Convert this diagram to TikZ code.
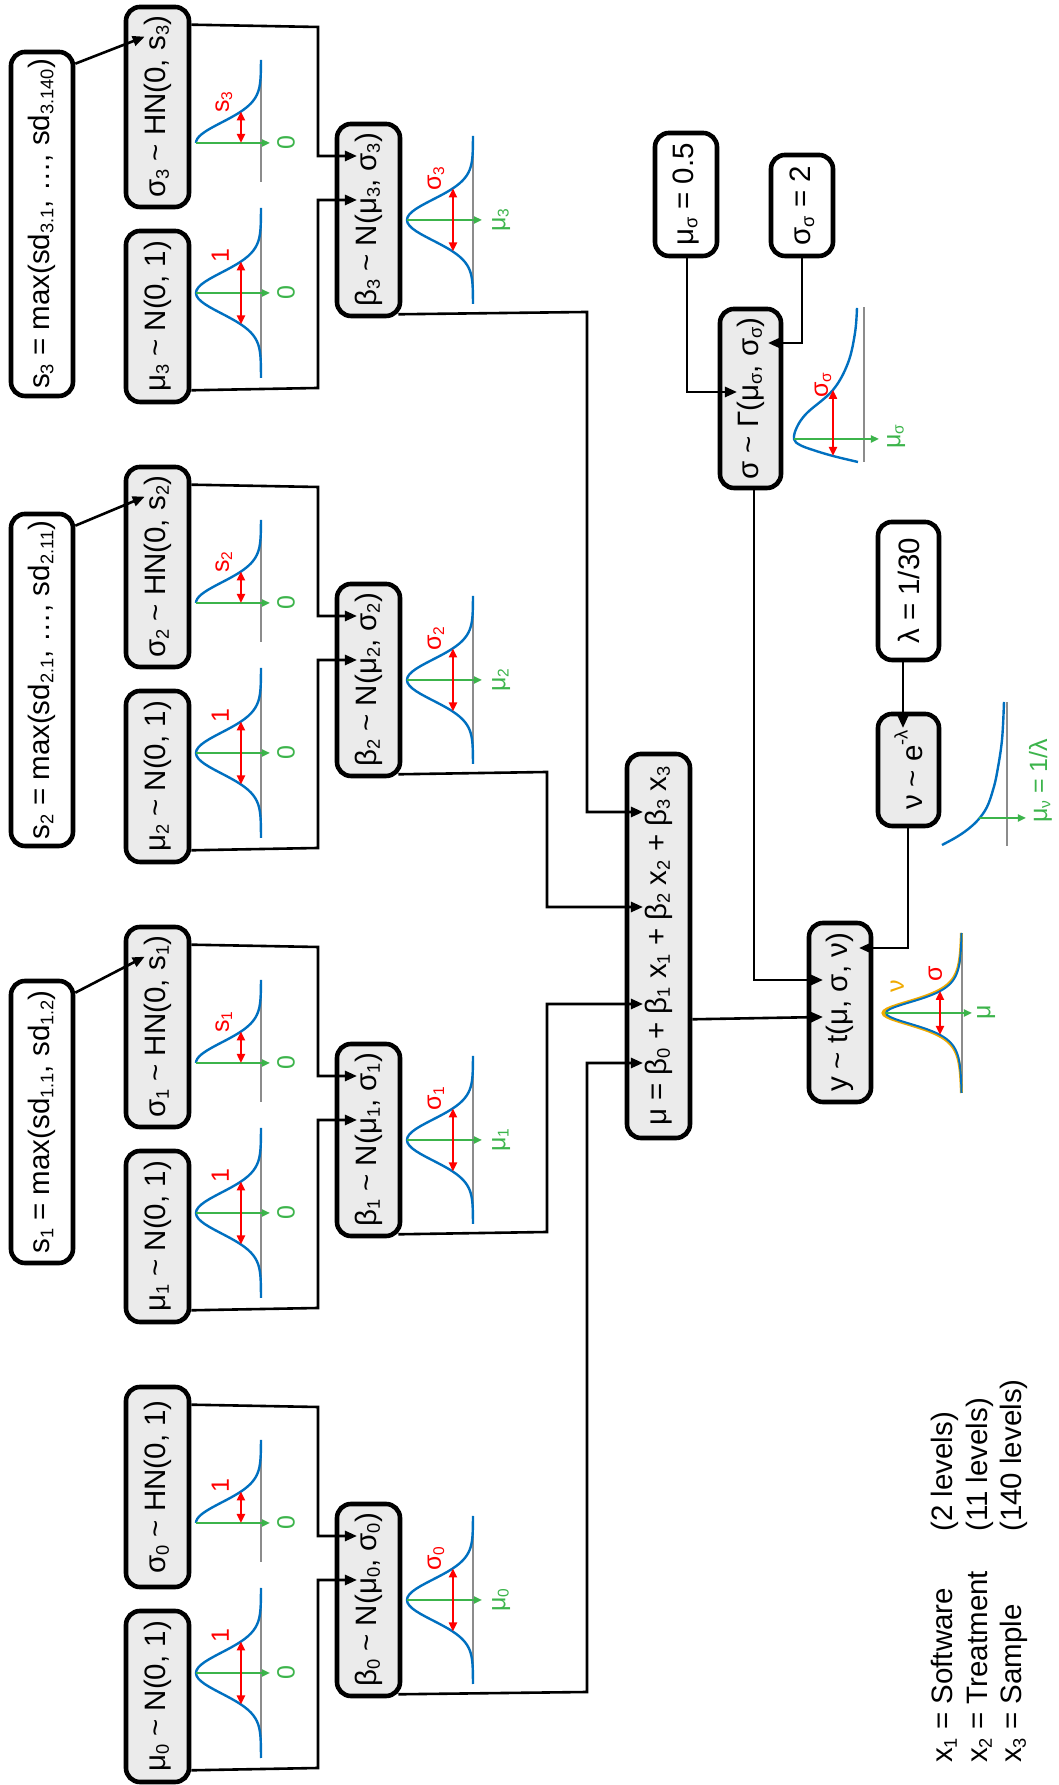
\documentclass[tikz,border=0pt]{standalone}
\usepackage{fontspec}
\setmainfont{Liberation Sans}
\usepackage{graphicx}
\usetikzlibrary{arrows.meta,calc}
\definecolor{cblue}{RGB}{0,112,192}
\definecolor{cred}{RGB}{255,0,0}
\definecolor{cgreen}{RGB}{60,180,75}
\definecolor{corange}{RGB}{240,170,0}
\definecolor{cgray}{RGB}{140,140,140}
\definecolor{boxfill}{RGB}{235,235,235}
\newcommand\sbs[1]{\raisebox{-0.13em}{\scalebox{0.62}{#1}}}
\newcommand\sps[1]{\raisebox{0.5em}{\scalebox{0.62}{#1}}}
\newcommand\tld{\textasciitilde}
\tikzset{
  varbox/.style={draw, line width=4.6pt, rounded corners=14pt, fill=boxfill, inner sep=0pt, font=\fontsize{29.5}{35}\selectfont},
  constbox/.style={varbox, fill=white},
  conn/.style={line width=2.6pt, -{Triangle[length=12pt,width=10pt]}},
  curve/.style={cblue, line width=2.4pt},
  axisline/.style={cgray, line width=2pt},
  meanarrow/.style={cgreen, line width=2pt, -{Triangle[length=8pt,width=7pt]}},
  sdarrow/.style={cred, line width=2.4pt, {Triangle[length=9pt,width=8pt]}-{Triangle[length=9pt,width=8pt]}},
  redlab/.style={cred, font=\fontsize{25}{29}\selectfont, inner sep=0pt},
  greenlab/.style={cgreen, font=\fontsize{25}{29}\selectfont, inner sep=0pt},
  orangelab/.style={corange, font=\fontsize{25}{29}\selectfont, inner sep=0pt},
  legendtext/.style={font=\fontsize{29.5}{35}\selectfont, inner sep=0pt},
}
\begin{document}
\begin{tikzpicture}[x=1pt,y=1pt,rotate=90,transform shape]
\fill[white] (0,0) rectangle (1785,1058);
\useasboundingbox (0,0) rectangle (1785,1058);

% ---------- curves of the four groups ----------
\foreach \k in {0,1,2,3}{
  \pgfmathsetmacro\dx{460*\k}
  % mu_k ~ N(0,1)
  \draw[axisline] (27+\dx,797) -- (197+\dx,797);
  \draw[curve] plot[domain=-85:85,samples=61] ({112+\dx+\x},{797+65*exp(-(\x*\x)/840.5)});
  \draw[meanarrow] (112+\dx,862) -- (112+\dx,788);
  \draw[sdarrow] (80.5+\dx,817) -- (143.5+\dx,817);
  \node[redlab,anchor=base west] at (142+\dx,829) {1};
  \node[greenlab,anchor=north] at (112+\dx,781) {0};
  % sigma_k ~ HN
  \draw[axisline] (223+\dx,797) -- (345+\dx,797);
  \draw[curve] plot[domain=0:83,samples=41] ({262+\dx+\x},{797+65*exp(-(\x*\x)/840.5)});
  \draw[meanarrow] (262+\dx,862) -- (262+\dx,788);
  \draw[sdarrow] (262+\dx,817) -- (293.5+\dx,817);
  \node[redlab,anchor=base west] at (292+\dx,829) {\ifnum\k=0 1\else s\sbs{\k}\fi};
  \node[greenlab,anchor=north] at (262+\dx,781) {0};
  % beta_k ~ N
  \draw[axisline] (101+\dx,585) -- (269+\dx,585);
  \draw[curve] plot[domain=-84:84,samples=61] ({185+\dx+\x},{585+66*exp(-(\x*\x)/840.5)});
  \draw[meanarrow] (185+\dx,651) -- (185+\dx,576);
  \draw[sdarrow] (153.5+\dx,605) -- (216.5+\dx,605);
  \node[redlab,anchor=base west] at (214+\dx,617) {σ\sbs{\k}};
  \node[greenlab,anchor=north] at (185+\dx,566) {μ\sbs{\k}};
}

% ---------- curve of sigma ~ Gamma ----------
\draw[axisline] (1323,194) -- (1478,194);
\draw[curve] plot[smooth,tension=0.6] coordinates {(1323,200) (1329,225) (1335,245) (1340,258) (1346,264) (1358,261) (1372,251) (1395,225) (1422,210) (1452,203) (1477,201)};
\draw[meanarrow] (1346,264) -- (1346,179);
\draw[sdarrow] (1329,225) -- (1395,225);
\node[redlab,anchor=base west] at (1387,230) {σ\sbs{σ}};
\node[greenlab,anchor=north] at (1348,171) {μ\sbs{σ}};

% ---------- curve of nu ~ exponential ----------
\draw[axisline] (939,51) -- (1083,51);
\draw[curve] plot[smooth,tension=0.6] coordinates {(940,116) (947,103) (955,91) (965,80) (978,71) (995,65) (1012,61) (1045,56) (1083,54)};
\draw[meanarrow] (967,79) -- (967,32);
\node[greenlab,anchor=base west] at (962,11) {μ\sbs{ν} = 1/λ};

% ---------- curve of y ~ t ----------
\draw[axisline] (693,96) -- (852,96);
\draw[corange, line width=3pt] plot[domain=-80:80,samples=81] ({772+\x},{96+79/((1+\x*\x/600)*(1+\x*\x/600))});
\draw[curve, line width=2pt] plot[domain=-80:80,samples=81] ({772+\x},{96+76/((1+\x*\x/555)*(1+\x*\x/555))});
\draw[meanarrow] (772,173) -- (772,86);
\draw[sdarrow] (750,118) -- (794,118);
\node[redlab,anchor=base west] at (803,116) {σ};
\node[orangelab,anchor=base west] at (792,154) {ν};
\node[greenlab,anchor=north] at (773,81) {μ};

% ---------- boxes ----------
\foreach \k in {0,1,2,3}{
  \pgfmathsetmacro\dx{460*\k}
  \node[varbox, minimum width=171pt, minimum height=63pt] (mu\k) at (88.5+\dx,900.5) {μ\sbs{\k} \tld{} N(0, 1)};
  \node[varbox, minimum width=200pt, minimum height=63pt] (sig\k) at (298+\dx,900.5)
    {\ifnum\k=0 σ\sbs{0} \tld{} HN(0, 1)\else σ\sbs{\k} \tld{} HN(0, s\sbs{\k})\fi};
  \node[varbox, minimum width=192pt, minimum height=63pt] (beta\k) at (185+\dx,689.5) {β\sbs{\k} \tld{} N(μ\sbs{\k}, σ\sbs{\k})};
}
\node[constbox, minimum width=282pt, minimum height=62pt] (s1) at (663,1016) {s\sbs{1} = max(sd\sbs{1.1}, sd\sbs{1.2})};
\node[constbox, minimum width=332pt, minimum height=62pt] (s2) at (1105,1016) {s\sbs{2} = max(sd\sbs{2.1}, …, sd\sbs{2.11})};
\node[constbox, minimum width=344pt, minimum height=62pt] (s3) at (1561,1016) {s\sbs{3} = max(sd\sbs{3.1}, …, sd\sbs{3.140})};

\node[varbox, minimum width=384pt, minimum height=63pt] (mu) at (839,399.5) {μ = β\sbs{0} + β\sbs{1} x\sbs{1} + β\sbs{2} x\sbs{2} + β\sbs{3} x\sbs{3}};
\node[varbox, minimum width=179pt, minimum height=62pt] (y) at (772.5,218) {y \tld{} t(μ, σ, ν)};
\node[varbox, minimum width=179pt, minimum height=61pt] (sigma) at (1386.5,307.5) {σ \tld{} Γ(μ\sbs{σ}, σ\sbs{σ})};
\node[constbox, minimum width=123pt, minimum height=62pt] (musig) at (1590.5,372) {μ\sbs{σ} = 0.5};
\node[constbox, minimum width=101pt, minimum height=62pt] (sigsig) at (1579.5,256) {σ\sbs{σ} = 2};
\node[constbox, minimum width=138pt, minimum height=61pt] (lambda) at (1194,149.5) {λ = 1/30};
\node[varbox, minimum width=112pt, minimum height=61pt] (nu) at (1015,149.5) {ν \tld{} e\sps{-λ}};

% ---------- connectors ----------
\foreach \k/\lev/\xin in {0/471/722,1/511/781,2/511/878,3/471/973}{
  \pgfmathsetmacro\dx{460*\k}
  \coordinate (bmu\k) at (205+\dx,701);
  \coordinate (bsig\k) at (249+\dx,701);
  \coordinate (muin\k) at (\xin,415);
  \draw[conn] ($(mu\k.south west)+(14,0)$) -- (17+\dx,740) -- (205+\dx,740) -- (bmu\k);
  \draw[conn] ($(sig\k.south east)+(-20,0)$) -- (378+\dx,740) -- (249+\dx,740) -- (bsig\k);
  \draw[conn] ($(beta\k.south west)+(4,4)$) -- (93+\dx,\lev) -- (\xin,\lev) -- (muin\k);
}
\foreach \k in {1,2,3}{
  \draw[conn] ($(s\k.south east)+(-14,0)$) -- ($(sig\k.north east)+(-32,-21)$);
}
\coordinate (sgin1) at (1393,321);
\coordinate (sgin2) at (1442,290);
\coordinate (yin1) at (768,235);
\coordinate (yin2) at (805,235);
\coordinate (yin3) at (837,199);
\coordinate (nuin) at (1057,155);
\draw[conn] ($(musig.west)+(0,-1)$) -- (1393,371) -- (sgin1);
\draw[conn] (sigsig.west) -- (1442,256) -- (sgin2);
\draw[conn] ($(sigma.west)+(0,-3.5)$) -- (805,304) -- (yin2);
\draw[conn] ($(mu.south west)+(121,0)$) -- (yin1);
\draw[conn] ($(lambda.west)+(0,5.5)$) -- (nuin);
\draw[conn] ($(nu.west)+(0,0.5)$) -- (837,150) -- (yin3);

% ---------- legend ----------
\node[legendtext,anchor=base west] (l1a) at (22,105) {x\sbs{1} = Software};
\node[legendtext,anchor=base west] (l2a) at (22,70) {x\sbs{2} = Treatment};
\node[legendtext,anchor=base west] (l3a) at (22,36) {x\sbs{3} = Sample};
\node[legendtext,anchor=base west] (l1b) at (253,105) {(2 levels)};
\node[legendtext,anchor=base west] (l2b) at (253,70) {(11 levels)};
\node[legendtext,anchor=base west] (l3b) at (253,36) {(140 levels)};
\end{tikzpicture}
\end{document}
